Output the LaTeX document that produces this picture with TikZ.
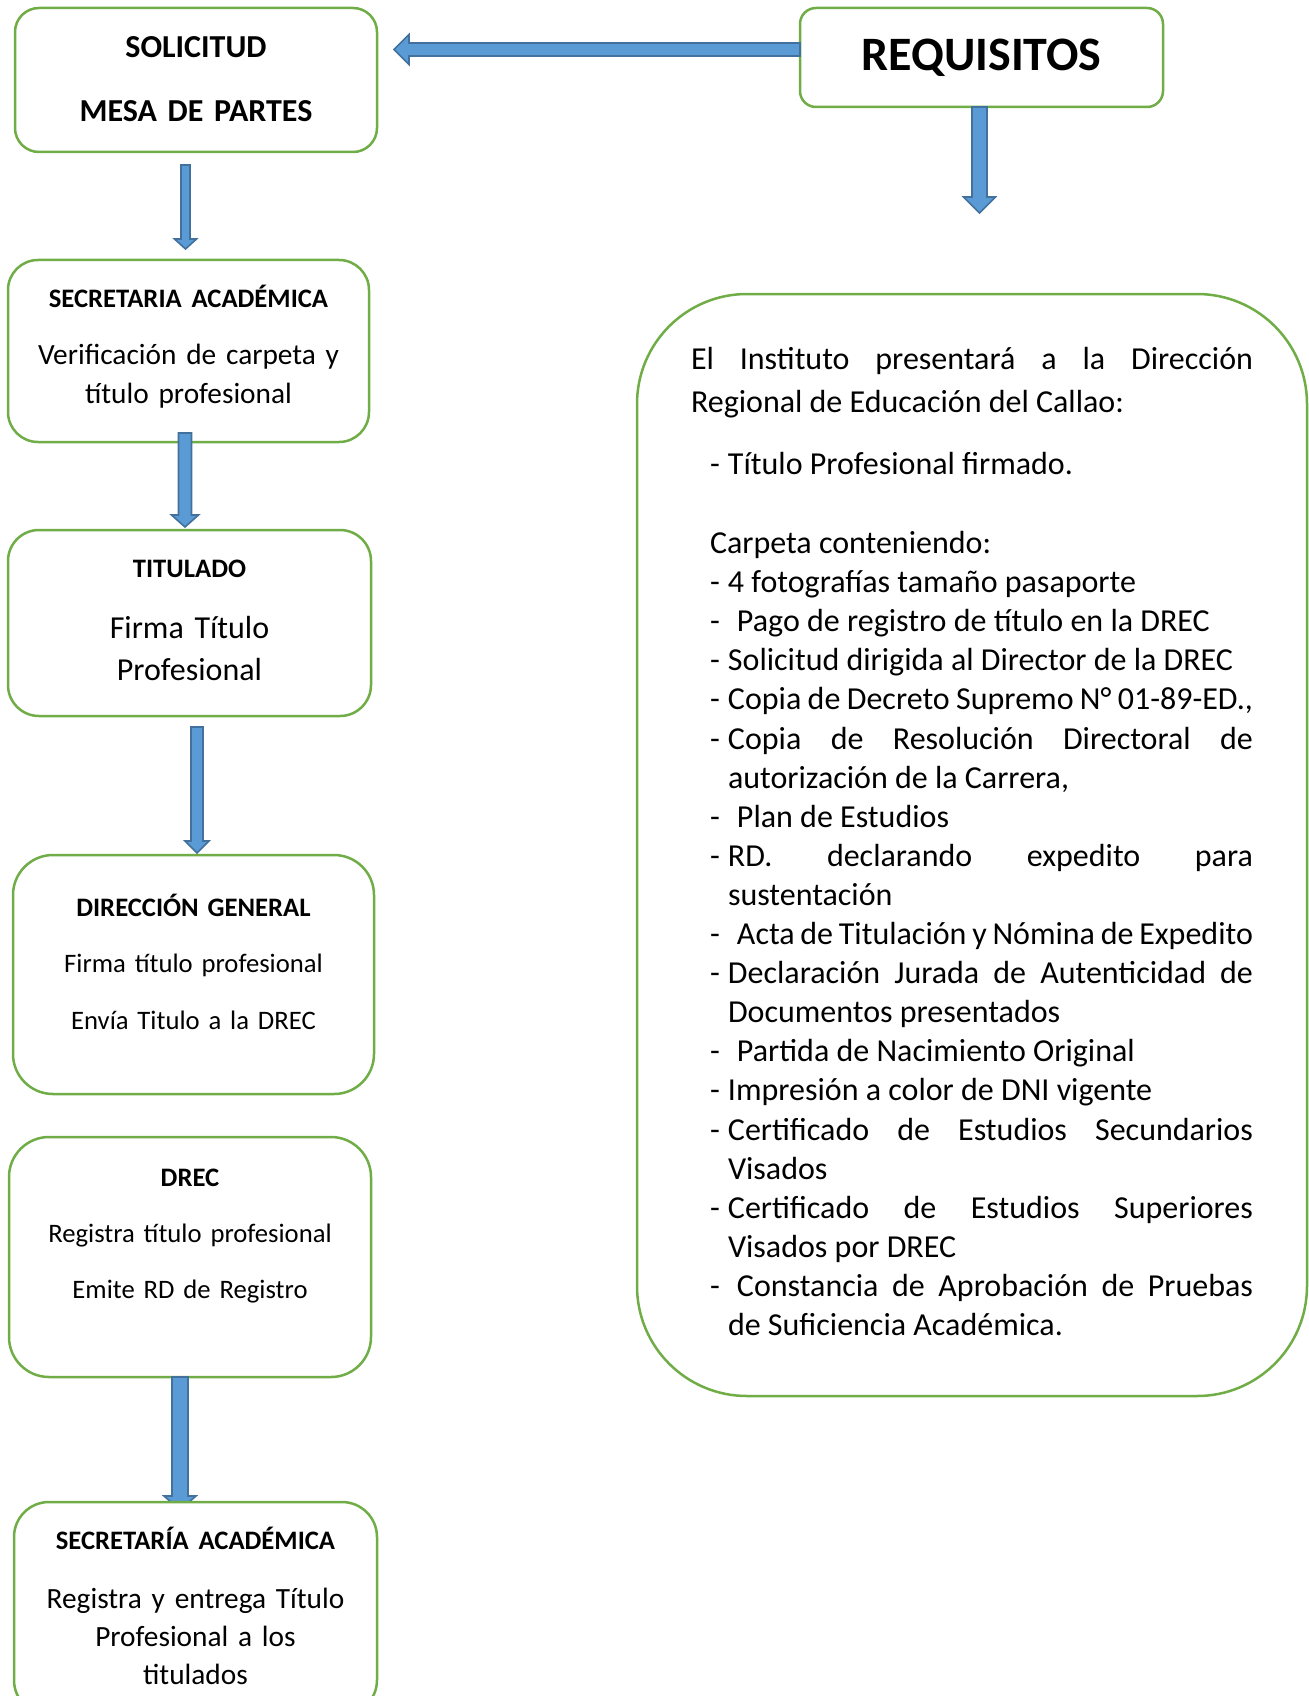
\documentclass[tikz,border=0pt]{standalone}
\usepackage{fontspec}
\setmainfont{Carlito}
\usetikzlibrary{calc}

\definecolor{boxgreen}{HTML}{70AD47}
\definecolor{arrowfill}{HTML}{5B9BD5}
\definecolor{arrowline}{HTML}{41719C}

\tikzset{
  stepbox/.style={draw=boxgreen, line width=1.25pt, fill=white, rounded corners=#1, inner sep=0pt},
  stepbox/.default=15pt,
  boxtext/.style={text width=176pt, align=center, inner sep=0pt, anchor=base},
  blockarrow/.style={fill=arrowfill, draw=arrowline, line width=0.8pt, line join=miter}
}

% block arrows: start, tip, half shaft, half head, head length (px)
\newcommand\vblock[5]{%
  \draw[blockarrow] let \p1=(#1), \p2=(#2) in
    (\x1-#3*0.5pt,\y1) -- (\x1+#3*0.5pt,\y1) -- (\x1+#3*0.5pt,\y2+#5*0.5pt)
    -- (\x1+#4*0.5pt,\y2+#5*0.5pt) -- (\x2,\y2)
    -- (\x1-#4*0.5pt,\y2+#5*0.5pt) -- (\x1-#3*0.5pt,\y2+#5*0.5pt) -- cycle;}
\newcommand\hblock[5]{%
  \draw[blockarrow] let \p1=(#1), \p2=(#2) in
    (\x1,\y1+#3*0.5pt) -- (\x1,\y1-#3*0.5pt) -- (\x2+#5*0.5pt,\y1-#3*0.5pt)
    -- (\x2+#5*0.5pt,\y1-#4*0.5pt) -- (\x2,\y2)
    -- (\x2+#5*0.5pt,\y1+#4*0.5pt) -- (\x2+#5*0.5pt,\y1+#3*0.5pt) -- cycle;}

% one line of the list
\newcommand\reqitem[2][9pt]{\par\hangindent=9pt\hangafter=1\noindent\makebox[#1][l]{-}#2\par}

\begin{document}
\begin{tikzpicture}[x=0.5pt, y=-0.5pt]
  \useasboundingbox (0,0) rectangle (1309,1696);
  \clip (0,0) rectangle (1309,1696);

  % Left column
  \node[stepbox=12pt, minimum width=181pt, minimum height=72pt] (sol) at (196,80) {};
  \node[boxtext, font=\bfseries\fontsize{16}{32}\selectfont] (soltext) at (196,58)
    {SOLICITUD\\MESA DE PARTES};

  \node[stepbox=15pt, minimum width=180.5pt, minimum height=91pt] (sec) at (188.5,351) {};
  \node[boxtext, font=\fontsize{14.67}{19.5}\selectfont] (sectext) at (188.5,307)
    {{\bfseries\fontsize{13.33}{16}\selectfont SECRETARIA ACADÉMICA}\\[9.25pt]
     Verificación de carpeta y\\ título profesional};

  \node[stepbox=15.5pt, minimum width=181.5pt, minimum height=93pt] (tit) at (189.5,623) {};
  \node[boxtext, font=\fontsize{16}{21}\selectfont] (tittext) at (189.5,577)
    {{\bfseries\fontsize{13.33}{16}\selectfont TITULADO}\\[9.7pt]
     Firma Título\\ Profesional};

  \node[stepbox=20pt, minimum width=180.5pt, minimum height=119.5pt] (dir) at (193.5,974.5) {};
  \node[boxtext, font=\fontsize{13.33}{28.25}\selectfont] (dirtext) at (193.5,916)
    {{\bfseries DIRECCIÓN GENERAL}\\ Firma título profesional\\ Envía Titulo a la DREC};

  \node[stepbox=20pt, minimum width=181pt, minimum height=120pt] (drec) at (190,1257) {};
  \node[boxtext, font=\fontsize{13.33}{28.1}\selectfont] (drectext) at (190,1186)
    {{\bfseries DREC}\\ Registra título profesional\\ Emite RD de Registro};

  % Right column
  \node[stepbox=8pt, minimum width=181.5pt, minimum height=49.5pt,
        font=\bfseries\fontsize{24}{29}\selectfont] (req) at (981.5,57.5) {REQUISITOS};

  \node[stepbox=55pt, minimum width=335pt, minimum height=551pt, text width=281pt,
        align=justify, font=\fontsize{16}{19.55}\selectfont] (reqlist) at (972,845) {%
    \tolerance=10000 \hyphenpenalty=10000 \exhyphenpenalty=10000
    \baselineskip=21.5pt
    El Instituto presentará a la Dirección\linebreak Regional de Educación del Callao:\par
    \baselineskip=19.55pt \leftskip=9.5pt
    \vspace{11.45pt}
    \reqitem{Título Profesional firmado.}
    \vspace{19.95pt}
    \noindent Carpeta conteniendo:\par
    \reqitem{4 fotografías tamaño pasaporte}
    \reqitem[13.5pt]{Pago de registro de título en la DREC}
    \reqitem{Solicitud dirigida al Director de la DREC}
    \reqitem{Copia de Decreto Supremo N° 01-89-ED.,}
    \reqitem{Copia de Resolución Directoral de\linebreak autorización de la Carrera,}
    \reqitem[13.5pt]{Plan de Estudios}
    \reqitem{RD. declarando expedito para\linebreak sustentación}
    \reqitem[13.5pt]{Acta de Titulación y Nómina de Expedito}
    \reqitem{Declaración Jurada de Autenticidad de\linebreak Documentos presentados}
    \reqitem[13.5pt]{Partida de Nacimiento Original}
    \reqitem{Impresión a color de DNI vigente}
    \reqitem{Certificado de Estudios Secundarios\linebreak Visados}
    \reqitem{Certificado de Estudios Superiores\linebreak Visados por DREC}
    \reqitem[13.5pt]{Constancia de Aprobación de Pruebas\linebreak de Suficiencia Académica.}
    \kern3.4pt};

  % Arrows
  \coordinate (reqout) at (800,49.5);
  \coordinate (soltip) at (394,49.5);
  \hblock{reqout}{soltip}{6.5}{15}{15}

  \coordinate (reqdown) at (979.5,107);
  \coordinate (listtip) at (979.5,213);
  \vblock{reqdown}{listtip}{7.5}{16}{16}

  \coordinate (solout) at (185.5,165);
  \coordinate (sectip) at (185.5,249);
  \vblock{solout}{sectip}{4.5}{11}{10}

  \coordinate (secout) at (185,433);
  \coordinate (tittip) at (185,527);
  \vblock{secout}{tittip}{6.5}{13.5}{12}

  \coordinate (titout) at (197,727);
  \coordinate (dirtip) at (197,853);
  \vblock{titout}{dirtip}{6}{12}{12}

  \coordinate (drecout) at (180,1377);
  \coordinate (lasttip) at (180,1510);
  \vblock{drecout}{lasttip}{8}{16}{14}

  % Last box, over the arrow head
  \node[stepbox=17.5pt, minimum width=181.5pt, minimum height=106.5pt] (entrega) at (195.5,1608.5) {};
  \node[boxtext, font=\fontsize{14.67}{18.9}\selectfont] (entregatext) at (195.5,1549)
    {{\bfseries\fontsize{13.33}{16}\selectfont SECRETARÍA ACADÉMICA}\\[10.9pt]
     Registra y entrega Título\\ Profesional a los\\ titulados};
\end{tikzpicture}
\end{document}
